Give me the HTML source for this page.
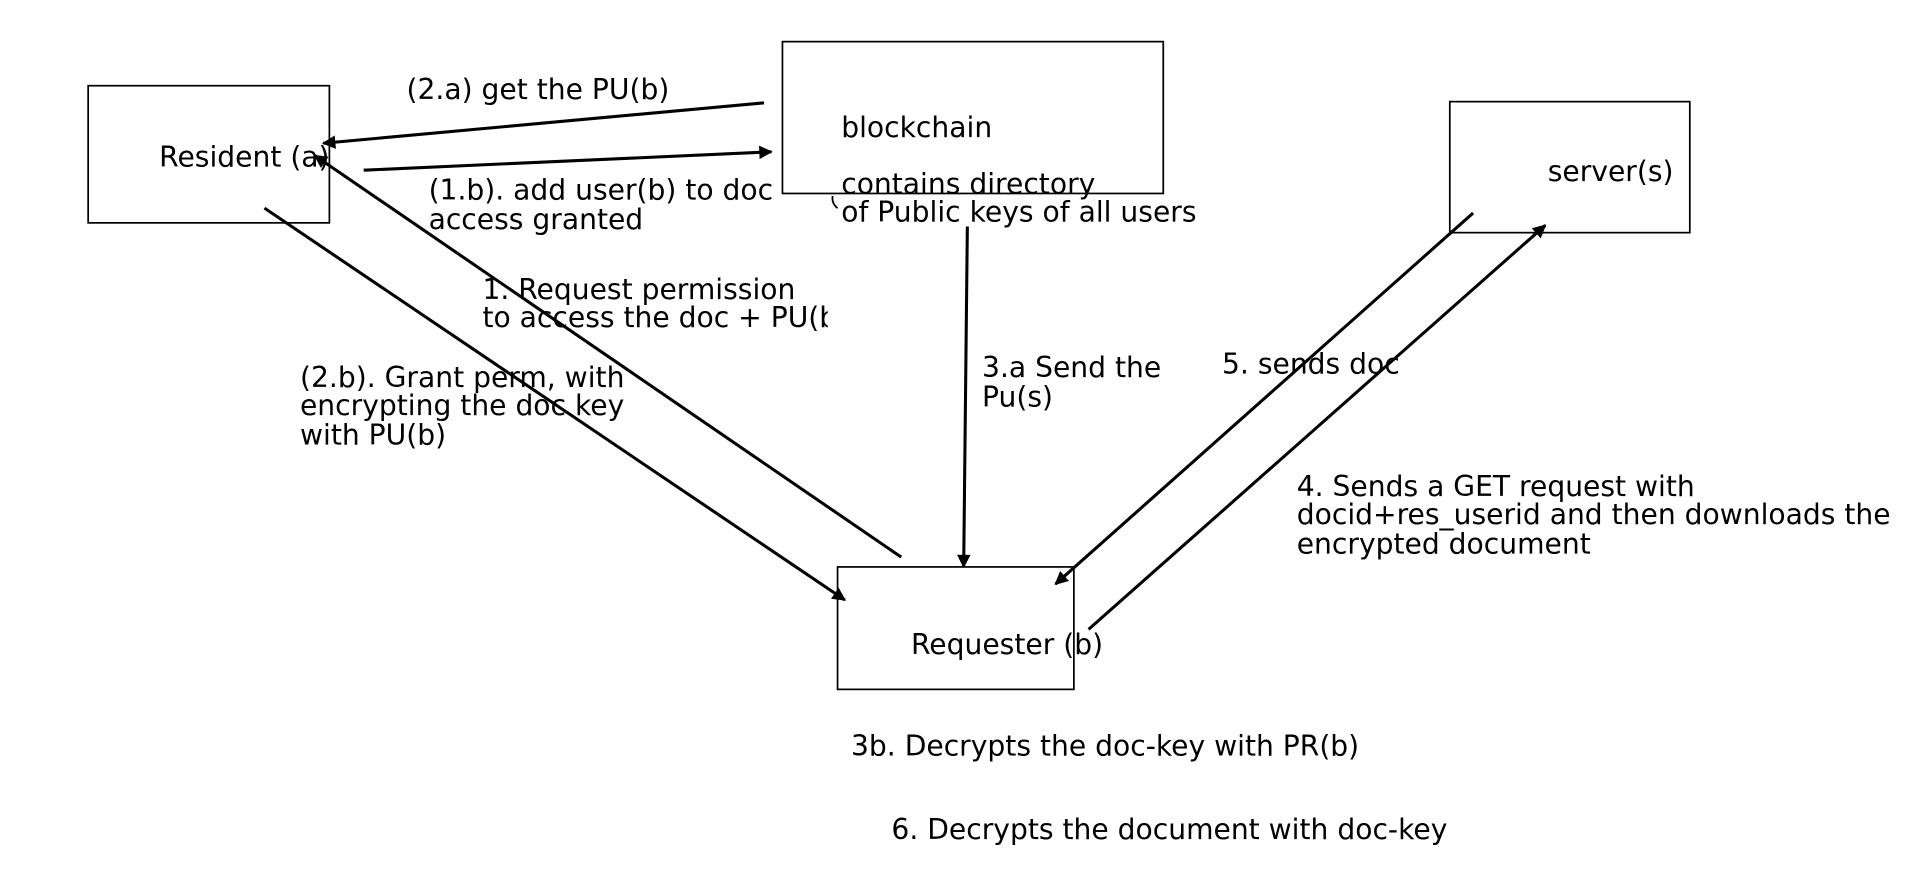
<!DOCTYPE html>
<html><head><meta charset="utf-8"><style>
html,body{margin:0;padding:0;background:#fff;}
svg{display:block;}
text{font-family:"DejaVu Sans","Liberation Sans",sans-serif;font-size:23px;fill:#000;}
</style></head><body>
<svg width="1920" height="887" viewBox="0 0 1568 724.4" preserveAspectRatio="none" xmlns="http://www.w3.org/2000/svg">
<defs>
<marker id="b" viewBox="0 0 10 10" refX="9" refY="5" markerWidth="14" markerHeight="11" orient="auto" markerUnits="userSpaceOnUse">
<path d="M0,0 L10,5 L0,10 z" fill="#000"/>
</marker>
<clipPath id="c"><rect x="0" y="0" width="676" height="724"/></clipPath>
</defs>
<g fill="none" stroke="#000" stroke-width="1.4">
<rect x="72" y="70" width="197" height="112"/>
<rect x="639" y="34" width="311" height="124"/>
<rect x="1184" y="83" width="196" height="107"/>
<rect x="684" y="463" width="193" height="100"/>
</g>
<g stroke="#000" stroke-width="2.5" fill="none">
<line x1="624" y1="84" x2="264" y2="117" marker-end="url(#b)"/>
<line x1="297" y1="139" x2="630" y2="124" marker-end="url(#b)"/>
<line x1="736" y1="455" x2="257" y2="127" marker-end="url(#b)"/>
<line x1="216" y1="170" x2="690" y2="490" marker-end="url(#b)"/>
<line x1="790" y1="185" x2="787" y2="463" marker-end="url(#b)"/>
<line x1="1203" y1="174" x2="862" y2="477" marker-end="url(#b)"/>
<line x1="889" y1="514" x2="1262" y2="184" marker-end="url(#b)"/>
<path d="M680,160 Q679,166 684,170" stroke-width="1.5"/>
</g>
<text x="332" y="81">(2.a) get the PU(b)</text>
<text x="687" y="112">blockchain</text>
<text x="130" y="136">Resident (a)</text>
<text x="1264" y="148">server(s)</text>
<text x="350" y="163">(1.b). add user(b) to doc</text>
<text x="350" y="187">access granted</text>
<text x="687" y="158">contains directory</text>
<text x="687" y="181">of Public keys of all users</text>
<g clip-path="url(#c)">
<text x="394" y="244">1. Request permission</text>
<text x="394" y="267">to access the doc + PU(b)</text>
</g>
<text x="245" y="316">(2.b). Grant perm, with</text>
<text x="245" y="339">encrypting the doc key</text>
<text x="245" y="363">with PU(b)</text>
<text x="802" y="308">3.a Send the</text>
<text x="802" y="332">Pu(s)</text>
<text x="998" y="305">5. sends doc</text>
<text x="1059" y="405">4. Sends a GET request with</text>
<text x="1059" y="428">docid+res_userid and then downloads the</text>
<text x="1059" y="452">encrypted document</text>
<text x="744" y="534">Requester (b)</text>
<text x="695" y="617">3b. Decrypts the doc-key with PR(b)</text>
<text x="728" y="685">6. Decrypts the document with doc-key</text>
</svg>
</body></html>
